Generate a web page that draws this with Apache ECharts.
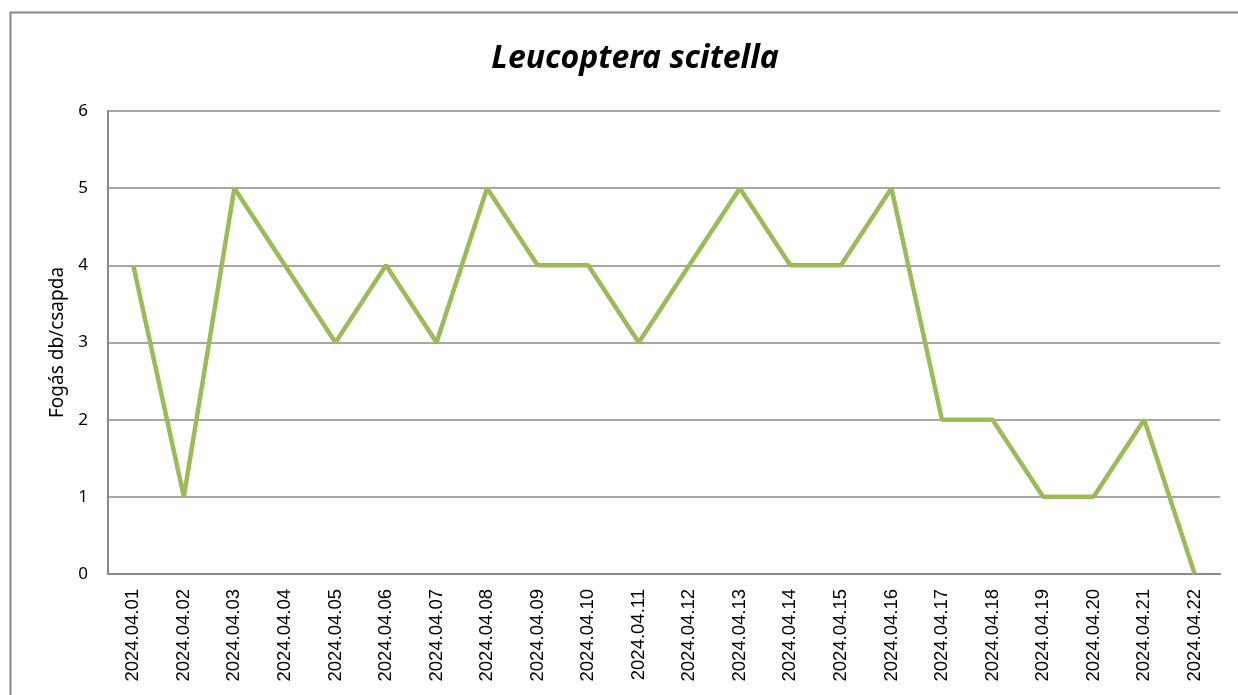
<!DOCTYPE html>
<html>
<head>
<meta charset="utf-8">
<script src="https://cdn.jsdelivr.net/npm/echarts@6/dist/echarts.min.js"></script>
<style>
html, body { margin: 0; padding: 0; background: #fff; }
#chart { width: 1238px; height: 695px; }
</style>
</head>
<body>
<div id="chart"></div>
<script>
var dates = ['2024.04.01', '2024.04.02', '2024.04.03', '2024.04.04', '2024.04.05', '2024.04.06',
	'2024.04.07', '2024.04.08', '2024.04.09', '2024.04.10', '2024.04.11', '2024.04.12',
	'2024.04.13', '2024.04.14', '2024.04.15', '2024.04.16', '2024.04.17', '2024.04.18',
	'2024.04.19', '2024.04.20', '2024.04.21', '2024.04.22'];
var catches = [4, 1, 5, 4, 3, 4, 3, 5, 4, 4, 3, 4, 5, 4, 4, 5, 2, 2, 1, 1, 2, 0];

var myChart = echarts.init(document.getElementById('chart'));
var option = {
	animation: false,
	title: {
		text: 'Leucoptera scitella',
		left: 630,
		textAlign: 'center',
		top: 38,
		textStyle: {
			fontFamily: 'Noto Sans',
			fontStyle: 'italic',
			fontWeight: 'bold',
			fontSize: 32,
			color: '#000'
		}
	},
	graphic: [{
		type: 'rect',
		shape: { x: 10.5, y: 12.5, width: 1300, height: 800 },
		style: { fill: 'none', stroke: '#888', lineWidth: 2 },
		silent: true
	}],
	grid: { left: 108, right: 18, top: 111, bottom: 121 },
	xAxis: {
		type: 'category',
		data: dates,
		boundaryGap: true,
		axisLine: { show: true, lineStyle: { color: '#888', width: 2 } },
		axisTick: { show: false },
		axisLabel: {
			rotate: 90,
			margin: 15,
			fontFamily: 'Liberation Sans',
			fontSize: 18.5,
			color: '#000'
		}
	},
	yAxis: {
		type: 'value',
		min: 0,
		max: 6,
		interval: 1,
		name: 'Fogás db/csapda',
		nameLocation: 'middle',
		nameGap: 41,
		nameTextStyle: { fontFamily: 'Noto Sans', fontSize: 19, color: '#000' },
		axisLine: { show: true, lineStyle: { color: '#888', width: 2 } },
		axisTick: { show: false },
		axisLabel: { margin: 20, fontFamily: 'Noto Sans', fontSize: 17, color: '#000' },
		splitLine: { lineStyle: { color: '#888', width: 1.5 } }
	},
	series: [{
		type: 'line',
		data: catches,
		symbol: 'none',
		lineStyle: { color: '#9BBB59', width: 4.5 },
		itemStyle: { color: '#9BBB59' }
	}]
};
myChart.setOption(option);
</script>
</body>
</html>
